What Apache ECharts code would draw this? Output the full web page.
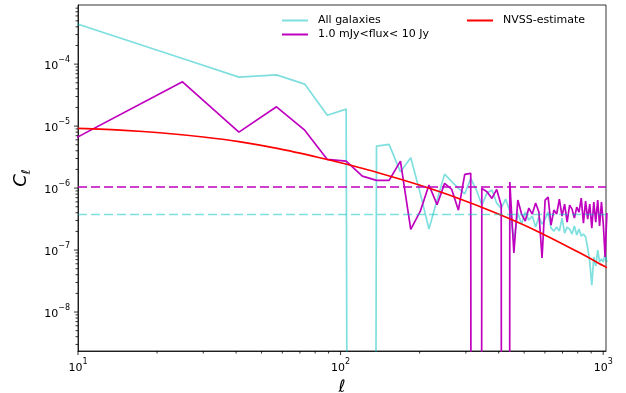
<!DOCTYPE html>
<html>
<head>
<meta charset="utf-8">
<script src="https://cdn.jsdelivr.net/npm/echarts@6/dist/echarts.min.js"></script>
<style>
  html, body { margin: 0; padding: 0; background: #fff; }
  #chart { width: 626px; height: 393px; }
</style>
</head>
<body>
<div id="chart"></div>
<script>
// Multipole bin centres
const ell = [9, 25, 41, 57, 73, 89, 105, 121, 137, 153, 169, 185, 201, 217, 233, 249,
  265, 281, 297, 313, 329, 345, 361, 377, 393, 409, 425, 441, 457, 473, 489, 505,
  521, 537, 553, 569, 585, 601, 617, 633, 649, 665, 681, 697, 713, 729, 745, 761,
  777, 793, 809, 825, 841, 857, 873, 889, 905, 921, 937, 953, 969, 985, 1001, 1017, 1033];

// Angular power spectrum, all galaxies
const clAll = [5.1e-4, 1.23e-4, 6.17e-5, 6.72e-5, 4.76e-5, 1.50e-5, 1.88e-5, -2.0e-6,
  4.76e-6, 5.07e-6, 1.83e-6, 3.09e-6, 8.3e-7, 2.19e-7, 6.4e-7, 1.68e-6,
  1.27e-6, 9.9e-7, 8.1e-7, 1.43e-6, 9.3e-7, 5.32e-7, 8.30e-7, 9.29e-7,
  5.73e-7, 4.76e-7, 6.65e-7, 4.26e-7, 1.45e-7, 3.95e-7, 2.63e-7, 4.10e-7,
  3.05e-7, 3.53e-7, 2.35e-7, 3.40e-7, 2.63e-7, 3.16e-7, 4.10e-7, 2.26e-7,
  2.02e-7, 2.35e-7, 2.02e-7, 3.28e-7, 1.88e-7, 2.35e-7, 2.18e-7, 1.81e-7,
  2.44e-7, 1.75e-7, 2.18e-7, 1.68e-7, 1.81e-7, 1.62e-7, 1.08e-7, 6.40e-8,
  2.72e-8, 7.71e-8, 5.52e-8, 1.00e-7, 6.40e-8, 7.16e-8, 6.40e-8, 8.95e-8, 6.40e-8];

// Angular power spectrum, 1.0 mJy < flux < 10 Jy
const clFlux = [5.3e-6, 5.19e-5, 8.0e-6, 2.05e-5, 8.6e-6, 2.9e-6, 2.72e-6, 1.56e-6,
  1.33e-6, 1.33e-6, 2.72e-6, 2.16e-7, 4.2e-7, 1.12e-6, 5.4e-7, 1.19e-6,
  9.5e-7, 4.4e-7, 1.66e-6, 1.73e-6, -8.0e-7, 9.9e-7, 8.7e-7, 6.8e-7,
  9.5e-7, 5.3e-7, -4.0e-7, 1.25e-6, 8.95e-8, 6.40e-7, 3.81e-7, 2.94e-7,
  4.76e-7, 3.81e-7, 5.73e-7, 4.10e-7, 7.43e-8, 6.40e-7, 7.16e-7, 2.53e-7,
  4.42e-7, 3.81e-7, 6.65e-7, 3.53e-7, 5.52e-7, 2.83e-7, 5.32e-7, 4.58e-7,
  3.28e-7, 4.94e-7, 4.10e-7, 6.90e-7, 2.72e-7, 6.17e-7, 3.16e-7, 5.52e-7,
  2.26e-7, 5.94e-7, 2.83e-7, 6.40e-7, 2.44e-7, 5.94e-7, 2.63e-7, 7.71e-8, 3.95e-7];

// NVSS model estimate
const nvssEll = [10, 15, 20.5, 30, 41, 58, 82.5, 100, 139, 198, 280, 397, 563, 797, 1011, 1033];
const nvssCl = [9.2e-6, 8.55e-6, 7.82e-6, 6.67e-6, 5.61e-6, 4.32e-6, 3.12e-6, 2.56e-6,
  1.77e-6, 1.13e-6, 6.87e-7, 3.85e-7, 2.0e-7, 9.46e-8, 5.47e-8, 5.2e-8];

// Shot-noise levels
const noiseAll = 3.75e-7;
const noiseFlux = 1.04e-6;

// Axis ranges and decade ticks
const xRange = [10, 1025];
const yRange = [2.35e-9, 9.0e-4];
const xDecades = [10, 100, 1000];
const yDecades = [1e-9, 1e-8, 1e-7, 1e-6, 1e-5, 1e-4];

const FONT = 'DejaVu Sans';
const CYAN = 'rgba(0,191,191,0.5)';
const MAGENTA = '#bf00bf';
const RED = '#ff0000';

// log axes cannot show non-positive values: send them far below the frame
const clipPos = v => (v > 0 ? v : 1e-100);

function minorOf(decades, lo, hi) {
  const out = [];
  decades.forEach(d => {
    for (let m = 2; m <= 9; m++) {
      const v = d * m;
      if (v > lo && v < hi) out.push(v);
    }
  });
  return out;
}
const inRange = (arr, lo, hi) => arr.filter(v => v >= lo && v <= hi);

function tickSeries(values, axis, len) {
  return {
    type: 'custom', silent: true, clip: false, z: 20,
    data: values.map(v => axis === 'x' ? [v, yRange[0]] : [xRange[0], v]),
    renderItem: (params, api) => {
      const p = api.coord([api.value(0), api.value(1)]);
      const shape = axis === 'x'
        ? { x1: p[0], y1: p[1], x2: p[0], y2: p[1] + len }
        : { x1: p[0], y1: p[1], x2: p[0] - len, y2: p[1] };
      return { type: 'line', shape, style: { stroke: '#000', lineWidth: 0.8 } };
    }
  };
}

// horizontal noise level spanning the full ell range
function levelSeries(level, color) {
  return {
    type: 'line', showSymbol: false, symbol: 'none', clip: true, z: 6, silent: true,
    lineStyle: { color: color, width: 1.7, type: [9, 4] },
    data: [[xRange[0], level], [xRange[1], level]]
  };
}

function powLabel(v) {
  const e = Math.round(Math.log10(v));
  if (Math.abs(v / Math.pow(10, e) - 1) > 1e-6) return '';
  return '{b|10}{s|' + (e < 0 ? '\u2212' + (-e) : e) + '}';
}
const tickRich = {
  b: { fontFamily: FONT, fontSize: 11, color: '#000', lineHeight: 16, verticalAlign: 'bottom' },
  s: { fontFamily: FONT, fontSize: 8, color: '#000', lineHeight: 10, verticalAlign: 'top' }
};

const chart = echarts.init(document.getElementById('chart'), null, { renderer: 'canvas' });

const legendText = { fontFamily: FONT, fontSize: 11, color: '#000', padding: [0, 0, 0, 5] };

chart.setOption({
  animation: false,
  backgroundColor: '#fff',
  grid: {
    left: 78, right: 20, top: 5, bottom: 42, show: true,
    borderColor: '#000', borderWidth: 0.8, outerBoundsMode: 'none', containLabel: false
  },
  legend: [
    {
      data: ['All galaxies', '1.0 mJy<flux< 10 Jy'], orient: 'vertical',
      left: 277, top: 10, icon: 'rect', itemWidth: 26, itemHeight: 2, itemGap: 3,
      textStyle: legendText, selectedMode: false
    },
    {
      data: ['NVSS-estimate'], orient: 'vertical',
      left: 462, top: 10, icon: 'rect', itemWidth: 26, itemHeight: 2, itemGap: 3,
      textStyle: legendText, selectedMode: false
    }
  ],
  xAxis: {
    type: 'log', logBase: 10, min: xRange[0], max: xRange[1],
    name: '\u2113', nameLocation: 'middle', nameGap: 25,
    nameTextStyle: { fontFamily: FONT, fontSize: 17, fontStyle: 'italic', color: '#000' },
    axisLine: { show: true, lineStyle: { color: '#000', width: 0.8 } },
    axisTick: { show: false },
    splitLine: { show: false },
    axisLabel: { formatter: powLabel, rich: tickRich, margin: 7, showMinLabel: true, showMaxLabel: false }
  },
  yAxis: {
    type: 'log', logBase: 10, min: yRange[0], max: yRange[1],
    name: '{c|C}{s|\u2113}', nameLocation: 'middle', nameGap: 42,
    nameTextStyle: {
      rich: {
        c: { fontFamily: FONT, fontSize: 18, fontStyle: 'italic', color: '#000', lineHeight: 24, verticalAlign: 'middle' },
        s: { fontFamily: FONT, fontSize: 12, fontStyle: 'italic', color: '#000', lineHeight: 12, verticalAlign: 'bottom' }
      }
    },
    axisLine: { show: true, lineStyle: { color: '#000', width: 0.8 } },
    axisTick: { show: false },
    splitLine: { show: false },
    axisLabel: { formatter: powLabel, rich: tickRich, margin: 8, showMinLabel: false, showMaxLabel: false }
  },
  series: [
    {
      name: 'All galaxies', type: 'line', showSymbol: false, symbol: 'none', clip: true, z: 3,
      lineStyle: { color: CYAN, width: 1.7 }, itemStyle: { color: CYAN },
      data: ell.map((l, i) => [l, clipPos(clAll[i])])
    },
    {
      name: '1.0 mJy<flux< 10 Jy', type: 'line', showSymbol: false, symbol: 'none', clip: true, z: 4,
      lineStyle: { color: MAGENTA, width: 1.7 }, itemStyle: { color: MAGENTA },
      data: ell.map((l, i) => [l, clipPos(clFlux[i])])
    },
    {
      name: 'NVSS-estimate', type: 'line', showSymbol: false, symbol: 'none', clip: true, z: 5,
      smooth: 0.3,
      lineStyle: { color: RED, width: 1.7 }, itemStyle: { color: RED },
      data: nvssEll.map((l, i) => [l, nvssCl[i]])
    },
    levelSeries(noiseAll, CYAN),
    levelSeries(noiseFlux, MAGENTA),
    tickSeries(inRange(xDecades, xRange[0], xRange[1]), 'x', 4),
    tickSeries(minorOf(xDecades, xRange[0], xRange[1]), 'x', 2.5),
    tickSeries(inRange(yDecades, yRange[0], yRange[1]), 'y', 4),
    tickSeries(minorOf(yDecades, yRange[0], yRange[1]), 'y', 2.5)
  ]
});
</script>
</body>
</html>
